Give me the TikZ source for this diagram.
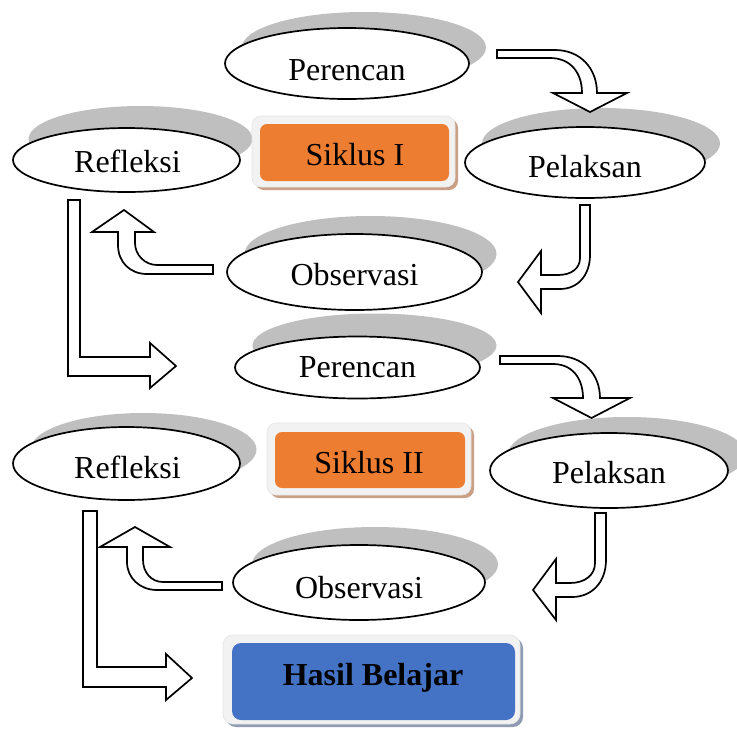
\documentclass[tikz,border=0pt]{standalone}
\usepackage{fontspec}
\setmainfont{Liberation Serif}
\usetikzlibrary{shapes.geometric}
\definecolor{shadowgray}{HTML}{BFBFBF}
\definecolor{orangefill}{HTML}{ED7D31}
\definecolor{bluefill}{HTML}{4472C4}
\definecolor{framefill}{HTML}{F2F2F2}
\definecolor{frameline}{HTML}{E4E4E4}
\definecolor{tanshadow}{HTML}{C9A085}
\definecolor{blueshadow}{HTML}{8E9BB3}
\begin{document}
\begin{tikzpicture}[x=1pt,y=-1pt,
  ellnode/.style={ellipse, draw=black, line width=1.7pt, fill=white, inner sep=0pt},
  ellshade/.style={fill=shadowgray},
  lbl/.style={anchor=base, inner sep=0pt, font=\fontsize{32}{38}\selectfont},
  boldlbl/.style={anchor=base, inner sep=0pt, font=\fontsize{32}{38}\selectfont\bfseries},
  blockarrow/.style={draw=black, line width=1.7pt, fill=white, line join=miter},
  framebox/.style={fill=framefill, draw=frameline, line width=0.6pt, rounded corners=9pt},
  innerbox/.style={rounded corners=7pt, draw=none, inner sep=0pt},
]
\useasboundingbox (0,0) rectangle (737,729);

% ---- ellipse shadows
\fill[ellshade] (364,47.5) ellipse [x radius=122, y radius=35.5];
\fill[ellshade] (601,143.5) ellipse [x radius=119, y radius=35.5];
\fill[ellshade] (140.5,139) ellipse [x radius=112, y radius=33];
\fill[ellshade] (370.5,254) ellipse [x radius=126, y radius=38];
\fill[ellshade] (374.5,345.5) ellipse [x radius=122, y radius=32];
\fill[ellshade] (143.5,449.5) ellipse [x radius=113, y radius=36.5];
\fill[ellshade] (627,454.5) ellipse [x radius=119, y radius=37.5];
\fill[ellshade] (375,564.5) ellipse [x radius=123, y radius=37.5];

% ---- ellipses
\node[ellnode, minimum width=244pt, minimum height=71pt] (per1) at (347,63.5) {};
\node[ellnode, minimum width=240pt, minimum height=71pt] (pel1) at (585,162.5) {};
\node[ellnode, minimum width=227pt, minimum height=64pt] (ref1) at (126.5,160) {};
\node[ellnode, minimum width=255pt, minimum height=76pt] (obs1) at (354.5,272) {};
\node[ellnode, minimum width=245pt, minimum height=62pt] (per2) at (357.5,367.5) {};
\node[ellnode, minimum width=227pt, minimum height=73pt] (ref2) at (126.5,463.5) {};
\node[ellnode, minimum width=238pt, minimum height=75pt] (pel2) at (609,470.5) {};
\node[ellnode, minimum width=252pt, minimum height=75pt] (obs2) at (359,582.5) {};

\node[lbl] (per1t) at (347,80) {Perencan};
\node[lbl] (pel1t) at (585,177) {Pelaksan};
\node[lbl] (ref1t) at (127.5,172) {Refleksi};
\node[lbl] (obs1t) at (354.5,285) {Observasi};
\node[lbl] (per2t) at (357.5,377) {Perencan};
\node[lbl] (ref2t) at (127.5,478) {Refleksi};
\node[lbl] (pel2t) at (609,483) {Pelaksan};
\node[lbl] (obs2t) at (359,598) {Observasi};

% ---- Siklus boxes
\fill[tanshadow, rounded corners=9pt] (255,119) rectangle (458,190);
\draw[framebox] (252,116) rectangle (455,187);
\node[innerbox, fill=orangefill, minimum width=189pt, minimum height=57pt] (sik1) at (354.5,152.5) {};
\node[lbl] (sik1t) at (355,165) {Siklus I};

\fill[tanshadow, rounded corners=9pt] (270,426) rectangle (474,498);
\draw[framebox] (267,423) rectangle (471,495);
\node[innerbox, fill=orangefill, minimum width=190pt, minimum height=56pt] (sik2) at (370,460) {};
\node[lbl] (sik2t) at (369,473) {Siklus II};

\fill[blueshadow, rounded corners=10pt] (226,638) rectangle (523,727);
\draw[framebox, rounded corners=10pt] (223,635) rectangle (520,724);
\node[innerbox, fill=bluefill, rounded corners=9pt, minimum width=283pt, minimum height=77pt] (hasil) at (373.5,681.5) {};
\node[boldlbl] (hasilt) at (373,685) {Hasil Belajar};

% ---- block arrows
% Perencan I -> Pelaksan I
\draw[blockarrow] (497,50) -- (555,50) .. controls (580,50) and (597,68) .. (597,93)
  -- (627,93) -- (590,112) -- (553,93) -- (582,93)
  .. controls (582,72) and (570,58) .. (550,58) -- (497,58) -- cycle;
% Pelaksan I -> Observasi I
\draw[blockarrow] (580,205) -- (590,205) -- (590,255) .. controls (590,275) and (578,289) .. (560,289)
  -- (541,289) -- (541,313) -- (518,282) -- (541,251) -- (541,275) -- (558,275)
  .. controls (572,275) and (580,268) .. (580,258) -- cycle;
% Observasi I -> Refleksi I
\draw[blockarrow] (213,265) -- (157,265) .. controls (145,265) and (135,255) .. (135,243)
  -- (135,232) -- (154,232) -- (124,210) -- (92,232) -- (118,232) -- (118,245)
  .. controls (118,262) and (130,274) .. (147,274) -- (213,274) -- cycle;
% Refleksi I -> Perencan II
\draw[blockarrow] (68,200) -- (80,200) -- (80,357) -- (150,357) -- (150,343) -- (176,366)
  -- (150,388) -- (150,376) -- (68,376) -- cycle;
% Perencan II -> Pelaksan II
\draw[blockarrow] (500,356) -- (558,356) .. controls (583,356) and (600,374) .. (600,398)
  -- (630,398) -- (591.5,418) -- (553,398) -- (583,398)
  .. controls (583,378) and (572,364) .. (553,364) -- (500,364) -- cycle;
% Pelaksan II -> Observasi II
\draw[blockarrow] (595,513) -- (606,513) -- (606,560) .. controls (606,582) and (592,597) .. (572,597)
  -- (556,597) -- (556,620) -- (533,590) -- (556,559) -- (556,583) -- (570,583)
  .. controls (585,583) and (595,575) .. (595,563) -- cycle;
% Observasi II -> Refleksi II
\draw[blockarrow] (222,582) -- (163,582) .. controls (151,582) and (143,572) .. (143,560)
  -- (143,547) -- (170,547) -- (135,527) -- (100,547) -- (127,547) -- (127,562)
  .. controls (127,578) and (140,590) .. (157,590) -- (222,590) -- cycle;
% Refleksi II -> Hasil Belajar
\draw[blockarrow] (83,511) -- (97,511) -- (97,667) -- (166,667) -- (166,654) -- (192,678)
  -- (166,700) -- (166,687) -- (83,687) -- cycle;
\end{tikzpicture}
\end{document}
